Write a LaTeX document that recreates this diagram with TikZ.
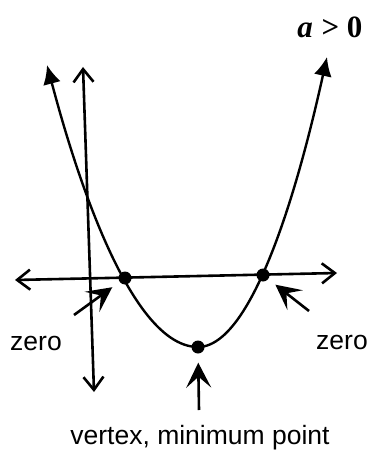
\documentclass[tikz,border=0pt]{standalone}
\usepackage{fontspec}
\setmainfont{Liberation Sans}
\newfontfamily\serifbf{Liberation Serif}
\usetikzlibrary{arrows.meta, positioning}

\begin{document}
\begin{tikzpicture}[
    x=1pt, y=-1pt,
    font=\fontsize{26.5}{30}\selectfont,
    axis/.style={line width=2.6pt,
        {Straight Barb[length=13pt, width=20pt]}-{Straight Barb[length=13pt, width=20pt]}},
    curve/.style={line width=2.4pt,
        {Latex[length=19pt, width=18pt]}-{Latex[length=19pt, width=18pt]}},
    pointer/.style={line width=2.6pt, shorten >=9pt,
        -{Stealth[length=25pt, width=25pt, inset=11pt]}},
    dot/.style={circle, fill, inner sep=0pt, minimum size=13pt},
    lbl/.style={inner sep=0pt},
]

% === Frame ===
\useasboundingbox (0,0) rectangle (369,454);

% === Axes ===
\coordinate (xl) at (15,280);
\coordinate (xr) at (337,273);
\coordinate (yt) at (83,67);
\coordinate (yb) at (94,392);
\draw[axis] (xl) -- (xr);
\draw[axis] (yt) -- (yb);

% === Parabola with zeros and vertex ===
\coordinate (pl) at (47,65);
\coordinate (pr) at (327,57);
\node[dot] (vtx) at (198,347) {};
\node[dot] (zl) at (125,278) {};
\node[dot] (zr) at (263,275) {};
\draw[curve] (pl) parabola bend (vtx.center) (pr);

% === Labels ===
\node[lbl] (sign) at (330,27)
    {\fontsize{31}{34}\selectfont{\serifbf\bfseries\itshape a} {\serifbf\bfseries > 0}};
\node[lbl] (zerol) at (36,343) {zero};
\node[lbl] (zeror) at (342,342) {zero};
\node[lbl] (vlbl) at (200,438) {vertex, minimum point};

% === Pointers ===
\coordinate (zlt) at (74,315);
\coordinate (zrt) at (309,311);
\coordinate (vt) at (199,410);
\draw[pointer] (zlt) -- (zl);
\draw[pointer] (zrt) -- (zr);
\draw[pointer] (vt) -- (vtx);

\end{tikzpicture}
\end{document}
